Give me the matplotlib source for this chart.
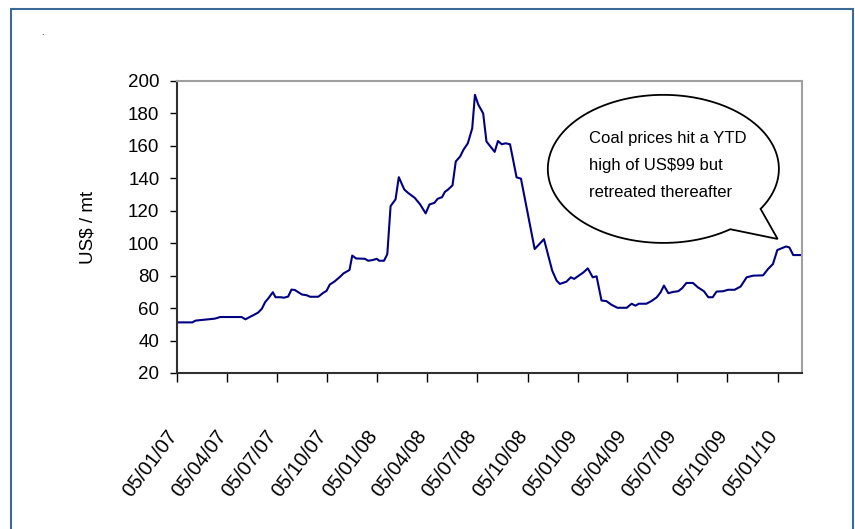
import matplotlib
matplotlib.use("Agg")
import matplotlib.pyplot as plt
import matplotlib.transforms as mtransforms
from matplotlib.path import Path
from matplotlib.patches import PathPatch, Rectangle
import numpy as np

plt.rcParams['font.family'] = ['Liberation Sans', 'DejaVu Sans']

# precios semanales del carbon (US$/mt)
fechas = [
    '2007-01-05', '2007-02-01', '2007-02-07', '2007-03-14', '2007-03-24', '2007-05-02',
    '2007-05-09', '2007-05-26', '2007-06-01', '2007-06-08', '2007-06-14', '2007-06-20',
    '2007-06-28', '2007-07-03', '2007-07-13', '2007-07-18', '2007-07-26', '2007-08-01',
    '2007-08-07', '2007-08-20', '2007-08-29', '2007-09-04', '2007-09-19', '2007-09-28',
    '2007-10-04', '2007-10-10', '2007-10-19', '2007-10-29', '2007-11-04', '2007-11-15',
    '2007-11-20', '2007-11-27', '2007-12-13', '2007-12-19', '2007-12-27', '2008-01-04',
    '2008-01-08', '2008-01-17', '2008-01-23', '2008-01-29', '2008-02-07', '2008-02-13',
    '2008-02-23', '2008-03-01', '2008-03-13', '2008-03-23', '2008-04-02', '2008-04-09',
    '2008-04-18', '2008-04-24', '2008-05-02', '2008-05-07', '2008-05-13', '2008-05-21',
    '2008-05-27', '2008-06-04', '2008-06-10', '2008-06-18', '2008-06-26', '2008-07-01',
    '2008-07-07', '2008-07-16', '2008-07-22', '2008-08-06', '2008-08-12', '2008-08-19',
    '2008-08-26', '2008-09-03', '2008-09-15', '2008-09-23', '2008-10-18', '2008-11-04',
    '2008-11-19', '2008-11-27', '2008-12-03', '2008-12-15', '2008-12-23', '2008-12-29',
    '2009-01-15', '2009-01-23', '2009-02-01', '2009-02-08', '2009-02-17', '2009-02-26',
    '2009-03-07', '2009-03-18', '2009-04-04', '2009-04-13', '2009-04-20', '2009-04-26',
    '2009-05-10', '2009-05-19', '2009-05-29', '2009-06-05', '2009-06-11', '2009-06-19',
    '2009-06-28', '2009-07-07', '2009-07-14', '2009-07-22', '2009-08-03', '2009-08-12',
    '2009-08-23', '2009-08-31', '2009-09-08', '2009-09-15', '2009-09-27', '2009-10-06',
    '2009-10-18', '2009-10-29', '2009-11-09', '2009-11-21', '2009-12-09', '2009-12-18',
    '2009-12-27', '2010-01-04', '2010-01-20', '2010-01-26', '2010-02-02', '2010-02-17',
]
precios = [
    51.2, 51.2, 52.3, 53.5, 54.5, 54.5,
    53.1, 56.1, 57.2, 59.6, 63.7, 66.1,
    69.8, 66.7, 66.7, 66.4, 67.1, 71.4,
    71.2, 68.4, 67.9, 67.0, 67.0, 69.4,
    70.6, 74.5, 76.5, 79.4, 81.4, 83.5,
    92.4, 90.6, 90.4, 89.2, 89.6, 90.4,
    89.2, 89.2, 93.3, 122.9, 127.0, 140.7,
    133.1, 131.0, 128.0, 123.9, 118.4, 123.9,
    124.9, 127.4, 128.4, 131.6, 133.1, 135.7,
    150.4, 153.5, 157.6, 161.6, 170.8, 191.5,
    185.5, 180.0, 162.7, 156.3, 163.0, 161.0,
    161.6, 161.0, 140.6, 139.8, 96.4, 102.5,
    83.1, 77.0, 74.9, 76.3, 79.0, 78.0,
    82.0, 84.5, 79.0, 79.6, 64.7, 64.3,
    62.1, 60.2, 60.2, 62.7, 61.5, 62.7,
    62.7, 64.3, 66.7, 69.8, 73.9, 69.2,
    70.0, 70.4, 72.2, 75.5, 75.5, 72.8,
    70.4, 66.7, 66.7, 70.2, 70.4, 71.3,
    71.3, 73.3, 79.0, 80.0, 80.2, 84.1,
    87.2, 95.8, 98.0, 97.4, 92.7, 92.7,
]
fechas_ticks = ['2007-01-05', '2007-04-05', '2007-07-05', '2007-10-05', '2008-01-05',
                '2008-04-05', '2008-07-05', '2008-10-05', '2009-01-05', '2009-04-05',
                '2009-07-05', '2009-10-05', '2010-01-05']
etiquetas_x = ['05/01/07', '05/04/07', '05/07/07', '05/10/07', '05/01/08', '05/04/08',
               '05/07/08', '05/10/08', '05/01/09', '05/04/09', '05/07/09', '05/10/09',
               '05/01/10']
texto_nota = "Coal prices hit a YTD\nhigh of US$99 but\nretreated thereafter"

x = np.array(fechas, dtype='datetime64[D]')
xt = np.array(fechas_ticks, dtype='datetime64[D]')

fig = plt.figure(figsize=(8.55, 5.29), dpi=100)
ax = fig.add_axes([0.2076, 0.2949, 0.7304, 0.552])

ax.plot(x, precios, color='#000080', lw=1.5)

ax.set_ylim(20, 200)
ax.set_yticks(range(20, 201, 20))
ax.set_xlim(np.datetime64('2007-01-05'), np.datetime64('2010-02-18'))
ax.set_xticks(xt)
ax.set_xticklabels(etiquetas_x, rotation=53, ha='right', va='center',
                   rotation_mode='anchor')
ax.tick_params(axis='x', direction='out', length=6.5, width=1, pad=36,
               labelsize=14.5, colors='#000000')
ax.tick_params(axis='y', direction='out', length=5, width=1, pad=8,
               labelsize=13.5)
desplaza = mtransforms.ScaledTranslation(-4 / 100, 0, fig.dpi_scale_trans)
for lab in ax.get_xticklabels():
    lab.set_transform(lab.get_transform() + desplaza)
ax.set_ylabel('US$ / mt', fontsize=13.5)
ax.yaxis.set_label_coords(-0.13, 0.5)

for lado in ['left', 'bottom']:
    ax.spines[lado].set_color('#303030')
    ax.spines[lado].set_linewidth(1.5)
for lado in ['top', 'right']:
    ax.spines[lado].set_color('#a0a0a0')
    ax.spines[lado].set_linewidth(1.5)

# globo de dialogo con la nota
cx, cy, a, b = 0.778, 0.699, 0.185, 0.2535
t = np.radians(np.linspace(-32.7, 305.4, 200))
verts = list(zip(cx + a * np.cos(t), cy + b * np.sin(t)))
verts.append((0.961, 0.459))
verts.append(verts[0])
codes = [Path.MOVETO] + [Path.LINETO] * (len(verts) - 2) + [Path.CLOSEPOLY]
globo = PathPatch(Path(verts, codes), transform=ax.transAxes, facecolor='white',
                  edgecolor='black', lw=1.3, zorder=5)
ax.add_patch(globo)
ax.text(0.659, 0.71, texto_nota, transform=ax.transAxes, ha='left', va='center',
        fontsize=12, linespacing=2.0, zorder=6)

# marco exterior
fig.patches.append(Rectangle((0.0129, -0.02), 0.9848, 1.003, transform=fig.transFigure,
                             fill=False, edgecolor='#3a6a96', lw=1.5))
fig.text(41 / 855, 1 - 35 / 529, '.', fontsize=6)

fig.savefig('out.png', dpi=100)
